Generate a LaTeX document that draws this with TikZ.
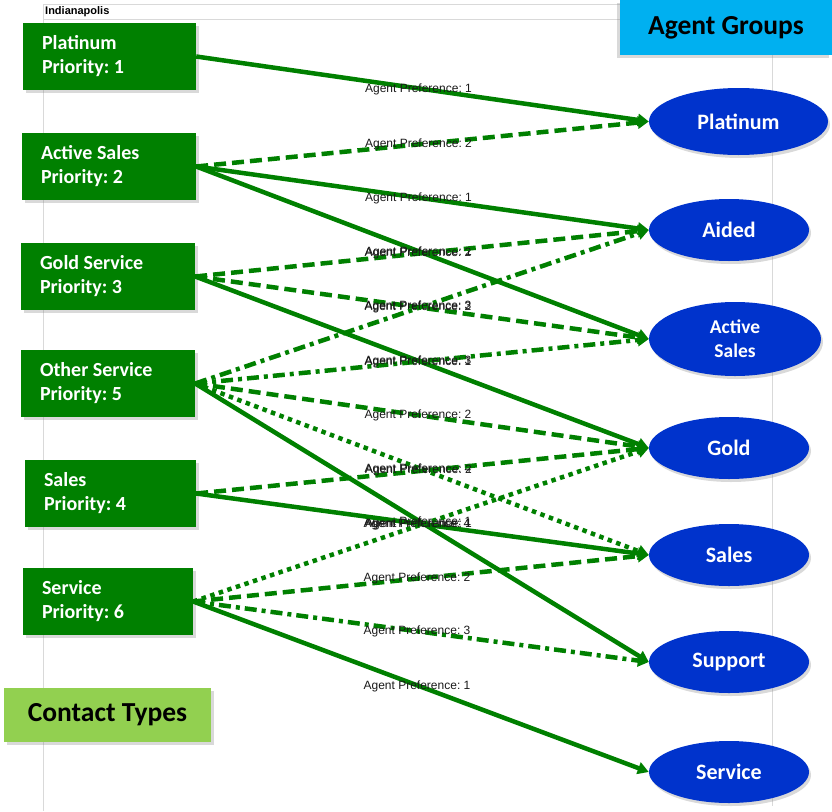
\documentclass[tikz,border=0pt]{standalone}
\usepackage{fontspec}
\setmainfont{Carlito}
\newfontfamily\arialf{Liberation Sans}
\usetikzlibrary{arrows.meta,shadows,shapes.geometric}
\definecolor{boxgreen}{RGB}{0,128,0}
\definecolor{linegreen}{RGB}{0,128,0}
\definecolor{ellblue}{RGB}{0,51,204}
\definecolor{agentcyan}{RGB}{0,176,240}
\definecolor{contactgreen}{RGB}{146,208,80}
\definecolor{gridgrey}{RGB}{217,217,217}
\frenchspacing
\begin{document}
\begin{tikzpicture}[x=1pt,y=-1pt,
  lbox/.style={rectangle, fill=boxgreen, draw=none, text=white,
    font=\frenchspacing\bfseries\fontsize{20}{24}\selectfont, align=flush left,
    inner xsep=19pt, inner ysep=0pt, minimum height=67pt,
    drop shadow={opacity=0.3,shadow xshift=3pt,shadow yshift=-3pt}},
  ell/.style={ellipse, fill=ellblue, draw=none, text=white,
    font=\bfseries\fontsize{22}{26}\selectfont, align=flush center,
    inner sep=0pt, minimum width=160pt, minimum height=62pt,
    drop shadow={opacity=0.3,shadow xshift=2pt,shadow yshift=-3pt}},
  titlebox/.style={rectangle, draw=none, text=black,
    font=\bfseries\fontsize{27.5}{32}\selectfont, inner sep=0pt},
  conn/.style={draw=linegreen, line width=4.5pt, line cap=butt,
    -{Triangle[length=11pt,width=12pt]}},
  pa/.style={conn},
  pb/.style={conn, dash pattern=on 12pt off 6pt},
  pc/.style={conn, dash pattern=on 12pt off 5pt on 4pt off 5pt},
  pd/.style={conn, dash pattern=on 4.5pt off 4.5pt},
  lbl/.style={midway, xshift=-4pt, font=\frenchspacing\arialf\fontsize{12}{14}\selectfont,
    text=black!90, inner sep=0pt},
  gridline/.style={draw=gridgrey, line width=0.8pt}]

\useasboundingbox (0,0) rectangle (832,811);

% background sheet lines
\coordinate (g1) at (43,4);
\coordinate (g2) at (620,4);
\coordinate (g3) at (43,19);
\coordinate (g4) at (620,19);
\coordinate (g5) at (43,811);
\coordinate (g6) at (772,55);
\coordinate (g7) at (772,806);
\draw[gridline] (g1) -- (g2);
\draw[gridline] (g3) -- (g4);
\draw[gridline] (g1) -- (g5);
\draw[gridline] (g6) -- (g7);
\node[anchor=west, inner sep=0pt, font=\arialf\bfseries\fontsize{11}{13}\selectfont] (city) at (45,11.5) {Indianapolis};

% contact types (left)
\node[lbox, text width=135pt] (c1) at (109.5,56.5) {Platinum\\Priority: 1};
\node[lbox, text width=136pt] (c2) at (109,166.5) {Active Sales\\Priority: 2};
\node[lbox, text width=136pt] (c3) at (108,276.5) {Gold Service\\Priority: 3};
\node[lbox, text width=136pt] (c4) at (108,383.5) {Other Service\\Priority: 5};
\node[lbox, text width=133pt] (c5) at (110.5,493.5) {Sales\\Priority: 4};
\node[lbox, text width=132pt] (c6) at (108,601.5) {Service\\Priority: 6};

% agent groups (right)
\node[ell, minimum width=179pt, minimum height=67pt] (a1) at (738.5,121.5) {Platinum};
\node[ell] (a2) at (729,230) {Aided};
\node[ell, minimum width=172pt, minimum height=74pt, font=\bfseries\fontsize{19.5}{24}\selectfont] (a3) at (735,339) {Active\\Sales};
\node[ell] (a4) at (729,448) {Gold};
\node[ell] (a5) at (729,555) {Sales};
\node[ell] (a6) at (729,662) {Support};
\node[ell] (a7) at (729,772) {Service};

% titles
\node[titlebox, fill=agentcyan, minimum width=212pt, minimum height=55pt,
  drop shadow={opacity=0.3,shadow xshift=-3pt,shadow yshift=-3pt}] (ag) at (726,27.5) {Agent Groups};
\node[titlebox, fill=contactgreen, minimum width=207pt, minimum height=54pt,
  drop shadow={opacity=0.3,shadow xshift=3pt,shadow yshift=-3pt}] (ct) at (107.5,715) {Contact Types};

% connectors
\draw[pa] (c1.east) -- node[lbl]{Agent Preference: 1} (a1.west);
\draw[pb] (c2.east) -- node[lbl]{Agent Preference: 2} (a1.west);
\draw[pa] (c2.east) -- node[lbl]{Agent Preference: 1} (a2.west);
\draw[pa] (c2.east) -- node[lbl]{Agent Preference: 1} (a3.west);
\draw[pb] (c3.east) -- node[lbl]{Agent Preference: 2} (a2.west);
\draw[pb] (c3.east) -- node[lbl]{Agent Preference: 2} (a3.west);
\draw[pa] (c3.east) -- node[lbl]{Agent Preference: 1} (a4.west);
\draw[pc] (c4.east) -- node[lbl]{Agent Preference: 3} (a2.west);
\draw[pc] (c4.east) -- node[lbl]{Agent Preference: 3} (a3.west);
\draw[pb] (c4.east) -- node[lbl]{Agent Preference: 2} (a4.west);
\draw[pd] (c4.east) -- node[lbl]{Agent Preference: 4} (a5.west);
\draw[pa] (c4.east) -- node[lbl]{Agent Preference: 1} (a6.west);
\draw[pb] (c5.east) -- node[lbl]{Agent Preference: 2} (a4.west);
\draw[pa] (c5.east) -- node[lbl]{Agent Preference: 1} (a5.west);
\draw[pd] (c6.east) -- node[lbl]{Agent Preference: 4} (a4.west);
\draw[pb] (c6.east) -- node[lbl]{Agent Preference: 2} (a5.west);
\draw[pc] (c6.east) -- node[lbl]{Agent Preference: 3} (a6.west);
\draw[pa] (c6.east) -- node[lbl]{Agent Preference: 1} (a7.west);
\end{tikzpicture}
\end{document}
